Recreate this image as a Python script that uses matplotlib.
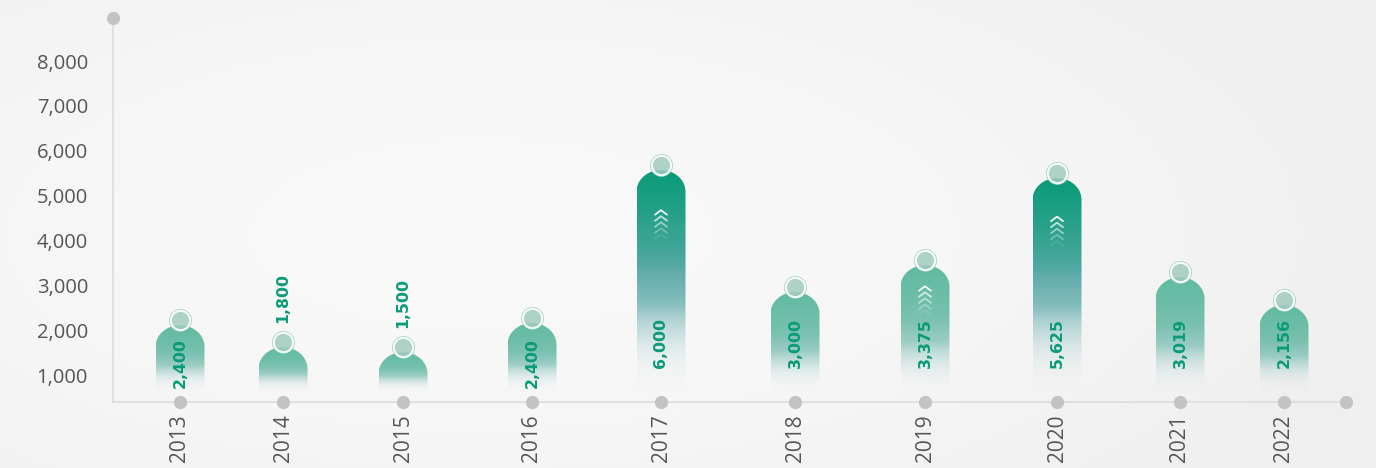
import matplotlib
matplotlib.use("Agg")
import matplotlib.pyplot as plt
import numpy as np
from matplotlib.path import Path
from matplotlib.patches import PathPatch
from matplotlib.colors import to_rgb

# data
years = ['2013', '2014', '2015', '2016', '2017', '2018', '2019', '2020', '2021', '2022']
labels = ['2,400', '1,800', '1,500', '2,400', '6,000', '3,000', '3,375', '5,625', '3,019', '2,156']
heights = [2230, 1740, 1630, 2280, 5690, 2970, 3570, 5510, 3300, 2680]
y_ticks = [1000, 2000, 3000, 4000, 5000, 6000, 7000, 8000]

# layout (slot centres are unevenly spaced in the original)
slots = [180, 283, 403, 532, 661, 795, 925, 1057, 1180, 1284]
X_MIN, X_MAX = 113, 1346
Y_MIN, Y_MAX = 400, 8960
BAR_W = 49
BAR_BOTTOM = 620
CAP_H = 480

GREEN = '#0a9b78'
GRAY_DOT = '#c3c3c3'
AXIS_COL = '#dcdcdc'
TEXT_COL = '#555555'

plt.rcParams['font.family'] = ['Open Sans', 'DejaVu Sans']

fig = plt.figure(figsize=(13.76, 4.68), dpi=100)
fig.patch.set_facecolor('#f2f2f2')

# soft background
bg = fig.add_axes([0, 0, 1, 1], zorder=-5)
gx = np.linspace(-1, 1, 300)
gy = np.linspace(-1, 1, 120)
GX, GY = np.meshgrid(gx, gy)
shade = 0.975 - 0.035 * np.clip((GX + 0.3) ** 2 * 0.6 + GY ** 2 * 0.4, 0, 1)
bg.imshow(np.dstack([shade] * 3), extent=[0, 1, 0, 1], aspect='auto', origin='lower')
bg.axis('off')

ax = fig.add_axes([X_MIN / 1376, 1 - 402 / 468, (X_MAX - X_MIN) / 1376, (402 - 18) / 468])
ax.set_facecolor('none')
ax.set_xlim(X_MIN, X_MAX)
ax.set_ylim(Y_MIN, Y_MAX)


def bar_colors(h, n=200):
    t = np.linspace(0, 1, n)[:, None]
    f = np.clip((h - 3700) / (5500 - 3700), 0, 1)
    top = np.array(to_rgb(GREEN)) * f + np.array(to_rgb('#4fb497')) * (1 - f)
    mid = np.array(to_rgb('#5fabaa')) * f + np.array(to_rgb('#72bdac')) * (1 - f)
    low = np.array(to_rgb('#cfe0e3'))
    c = np.where(t > 0.55, mid + (top - mid) * ((t - 0.55) / 0.45) ** 0.7,
                 low + (mid - low) * np.clip((t - 0.1) / 0.45, 0, 1))
    a = np.clip(t / 0.4, 0, 1) ** 1.4 * (0.9 + 0.1 * f)
    rgba = np.concatenate([c, a], axis=1)
    return rgba[:, None, :]


for x, h in zip(slots, heights):
    l, r = x - BAR_W / 2, x + BAR_W / 2
    apex = h - 120
    shoulder = apex - CAP_H
    th = np.linspace(0, np.pi, 40)
    cap = np.column_stack([x + BAR_W / 2 * np.cos(th), shoulder + CAP_H * np.sin(th)])
    verts = np.vstack([[r, BAR_BOTTOM], cap, [l, BAR_BOTTOM], [r, BAR_BOTTOM]])
    patch = PathPatch(Path(verts), facecolor='none', edgecolor='none')
    ax.add_patch(patch)
    im = ax.imshow(bar_colors(h), extent=[l, r, BAR_BOTTOM, apex], origin='lower',
                   aspect='auto', zorder=2, interpolation='bilinear')
    im.set_clip_path(patch)

    # chevrons on tall bars
    if h > 3400:
        c_top = h - 0.2 * (h - BAR_BOTTOM)
        for k in range(5):
            yc = c_top - k * 135
            ax.plot([x - 6, x, x + 6], [yc - 100, yc, yc - 100], color='white',
                    lw=1.3, alpha=max(0.9 - k * 0.2, 0.1), zorder=3, solid_capstyle='round')

    # top marker
    ax.plot(x, h, 'o', ms=15.5, mfc='none', mec='#7cc5b0', mew=0.8, zorder=4)
    ax.plot(x, h, 'o', ms=14, mfc=(0.64, 0.80, 0.75, 0.85), mec=(1, 1, 1, 0.9), mew=1.6, zorder=4)

# value labels
for x, h, lab in zip(slots, heights, labels):
    if h < 1800:
        base = h + 420
    elif h < 2500:
        base = 710
    else:
        base = 1155
    ax.text(x, base, lab, rotation=90, ha='center', va='bottom', color=GREEN,
            fontsize=11.3, fontweight='bold', family='DejaVu Sans', zorder=5)

# axes styling
for s in ['top', 'right']:
    ax.spines[s].set_visible(False)
for s in ['left', 'bottom']:
    ax.spines[s].set_color(AXIS_COL)
    ax.spines[s].set_linewidth(1.2)

ax.set_yticks(y_ticks)
ax.set_yticklabels([f'{v:,}' for v in y_ticks], fontsize=14.5, color=TEXT_COL)
ax.set_xticks(slots)
ax.set_xticklabels(years, rotation=90, fontsize=15, color=TEXT_COL)
ax.tick_params(axis='y', length=0, pad=18)
ax.tick_params(axis='x', length=0, pad=9)

# axis dots
ax.plot(slots, [Y_MIN] * len(slots), 'o', ms=8.5, color=GRAY_DOT, clip_on=False, zorder=6)
ax.plot([X_MAX], [Y_MIN], 'o', ms=8.5, color=GRAY_DOT, clip_on=False, zorder=6)
ax.plot([X_MIN], [Y_MAX], 'o', ms=8.5, color=GRAY_DOT, clip_on=False, zorder=6)

fig.savefig('out.png', dpi=100, facecolor=fig.get_facecolor())
